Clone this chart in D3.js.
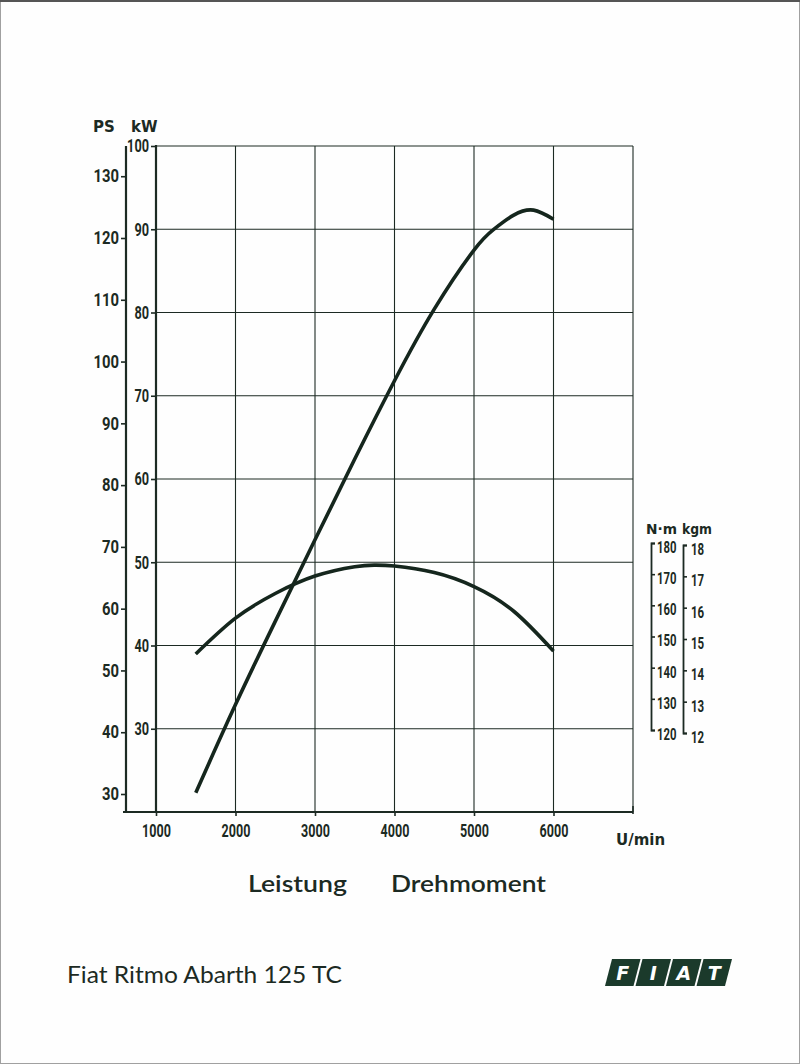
<!DOCTYPE html>
<html><head><meta charset="utf-8">
<script src="https://cdn.jsdelivr.net/npm/d3@7"></script>
<style>
html,body{margin:0;padding:0;background:#fff;}
svg{display:block;}
.num{font-family:Roboto,'Liberation Sans',sans-serif;font-weight:700;fill:#1c2a23;}
.hdr{font-family:'DejaVu Sans','Open Sans',sans-serif;font-weight:700;fill:#1c2a23;}
.ttl{font-family:Lato,'Open Sans',sans-serif;fill:#1c2a23;}
</style>
</head><body>
<script>
// ---- data ----
const rpmTicks = [1000, 2000, 3000, 4000, 5000, 6000];
const kwTicks = [30, 40, 50, 60, 70, 80, 90, 100];
const psTicks = [30, 40, 50, 60, 70, 80, 90, 100, 110, 120, 130];
const nmTicks = [120, 130, 140, 150, 160, 170, 180];
const kgmTicks = [12, 13, 14, 15, 16, 17, 18];

const powerRpm = [1500, 2000, 2500, 3000, 3500, 4000, 4500, 5000, 5250, 5500, 5750, 6000];
const powerKW  = [22.3, 32.9, 42.9, 52.7, 62.4, 71.8, 80.4, 87.5, 90.0, 91.7, 92.3, 91.2];

const torqueRpm = [1500, 2000, 2500, 3000, 3500, 3750, 4000, 4500, 5000, 5500, 6000];
const torqueNm  = [144.4, 155.9, 163.8, 169.4, 172.4, 172.9, 172.6, 170.5, 166.0, 158.1, 145.3];

const labels = {ps: "PS", kw: "kW", nm: "N·m", kgm: "kgm", rpm: "U/min",
  power: "Leistung", torque: "Drehmoment", model: "Fiat Ritmo Abarth 125 TC"};
const logoLetters = ["F", "I", "A", "T"];

// ---- drawing ----
(function () {
const W = 800, H = 1064, ink = "#1c2a23";
const svg = d3.select("body").append("svg").attr("width", W).attr("height", H);
svg.append("rect").attr("width", W).attr("height", H).attr("fill", "#fefefe");
svg.append("rect").attr("x", 0.5).attr("y", 0.5).attr("width", W - 1).attr("height", H - 1)
  .attr("fill", "none").attr("stroke", "#a0a0a0").attr("stroke-width", 1);
svg.append("line").attr("x1", 0).attr("x2", W).attr("y1", 1).attr("y2", 1).attr("stroke", "#555").attr("stroke-width", 2);

const x = d3.scaleLinear().domain([1000, 7000]).range([156, 633]);
const kw = d3.scaleLinear().domain([20, 100]).range([812, 146]);
const ps = d3.scaleLinear().domain([30, 120]).range([794, 238]);
const nm = d3.scaleLinear().domain([120, 180]).range([730, 543]);
const kgm = d3.scaleLinear().domain([12, 18]).range([733, 545]);

const psX = 126;
const g = svg.append("g");

g.selectAll(".vg").data(rpmTicks.slice(1).concat([7000])).join("line")
  .attr("x1", d => x(d)).attr("x2", d => x(d))
  .attr("y1", kw(100)).attr("y2", kw(20))
  .attr("stroke", ink).attr("stroke-width", 1.1);
g.selectAll(".hg").data(kwTicks).join("line")
  .attr("x1", x(1000)).attr("x2", x(7000))
  .attr("y1", d => kw(d)).attr("y2", d => kw(d))
  .attr("stroke", ink).attr("stroke-width", 1.1);
g.append("line").attr("x1", x(1000)).attr("x2", x(1000)).attr("y1", kw(100) - 1).attr("y2", kw(20))
  .attr("stroke", ink).attr("stroke-width", 2.2);
g.append("line").attr("x1", psX).attr("x2", psX).attr("y1", kw(100)).attr("y2", kw(20) + 1)
  .attr("stroke", ink).attr("stroke-width", 2.2);
g.append("line").attr("x1", psX - 3).attr("x2", x(7000)).attr("y1", kw(20)).attr("y2", kw(20))
  .attr("stroke", ink).attr("stroke-width", 2.2);
g.append("line").attr("x1", x(7000)).attr("x2", x(7000)).attr("y1", kw(20) - 6).attr("y2", kw(20) + 2)
  .attr("stroke", ink).attr("stroke-width", 1.6);

function styleAxis(sel, size, per) {
  sel.select(".domain").attr("stroke", ink).attr("stroke-width", 1.8);
  sel.selectAll(".tick line").attr("stroke", ink).attr("stroke-width", 1.6);
  sel.selectAll(".tick text").attr("class", "num").attr("font-size", size).attr("fill", ink)
    .attr("textLength", d => String(d).length * per).attr("lengthAdjust", "spacingAndGlyphs");
}

const xa = svg.append("g").attr("transform", `translate(0,${kw(20)})`)
  .call(d3.axisBottom(x).tickValues(rpmTicks).tickSize(4).tickPadding(8).tickFormat(d3.format("d")));
xa.select(".domain").remove();
styleAxis(xa, 18, 7.2);

const ka = svg.append("g").attr("transform", `translate(${x(1000)},0)`)
  .call(d3.axisLeft(kw).tickValues(kwTicks).tickSize(5).tickPadding(2).tickFormat(d3.format("d")));
ka.select(".domain").remove();
styleAxis(ka, 18, 7.3);

const pa = svg.append("g").attr("transform", `translate(${psX},0)`)
  .call(d3.axisLeft(ps).tickValues(psTicks).tickSize(5).tickPadding(2).tickFormat(d3.format("d")));
pa.select(".domain").remove();
styleAxis(pa, 18, 8.5);

const na = svg.append("g").attr("transform", "translate(651,0)")
  .call(d3.axisRight(nm).tickValues(nmTicks).tickSize(4).tickSizeOuter(4).tickPadding(2).tickFormat(d3.format("d")));
styleAxis(na, 17, 6.5);
na.selectAll(".tick text").attr("dy", "0.55em");
const ga = svg.append("g").attr("transform", "translate(683,0)")
  .call(d3.axisRight(kgm).tickValues(kgmTicks).tickSize(4).tickSizeOuter(4).tickPadding(4).tickFormat(d3.format("d")));
styleAxis(ga, 17, 6.6);
ga.selectAll(".tick text").attr("dy", "0.55em");

svg.append("text").attr("class", "hdr").attr("x", 93).attr("y", 132).attr("font-size", 15).text(labels.ps);
svg.append("text").attr("class", "hdr").attr("x", 131).attr("y", 132).attr("font-size", 15).text(labels.kw);
svg.append("text").attr("class", "hdr").attr("x", 646).attr("y", 534).attr("font-size", 14)
  .attr("textLength", 31).attr("lengthAdjust", "spacingAndGlyphs").text(labels.nm);
svg.append("text").attr("class", "hdr").attr("x", 682).attr("y", 534).attr("font-size", 14)
  .attr("textLength", 30).attr("lengthAdjust", "spacingAndGlyphs").text(labels.kgm);
svg.append("text").attr("class", "hdr").attr("x", 616).attr("y", 845).attr("font-size", 15).text(labels.rpm);

const line = d3.line().curve(d3.curveNatural);
svg.append("path")
  .attr("d", line(powerRpm.map((r, i) => [x(r), kw(powerKW[i])])))
  .attr("fill", "none").attr("stroke", "#15261d").attr("stroke-width", 3.6).attr("stroke-linecap", "butt");
svg.append("path")
  .attr("d", line(torqueRpm.map((r, i) => [x(r), nm(torqueNm[i])])))
  .attr("fill", "none").attr("stroke", "#15261d").attr("stroke-width", 3.6).attr("stroke-linecap", "butt");

svg.append("text").attr("class", "ttl").attr("x", 248).attr("y", 892).attr("font-size", 23)
  .attr("font-weight", 600).attr("textLength", 99).attr("lengthAdjust", "spacingAndGlyphs").text(labels.power);
svg.append("text").attr("class", "ttl").attr("x", 391).attr("y", 892).attr("font-size", 23)
  .attr("font-weight", 600).attr("textLength", 155).attr("lengthAdjust", "spacingAndGlyphs").text(labels.torque);
svg.append("text").attr("class", "ttl").attr("x", 67).attr("y", 983).attr("font-size", 24)
  .attr("textLength", 275).attr("lengthAdjust", "spacingAndGlyphs").text(labels.model);

const lg = svg.append("g");
const yTop = 959, yBot = 986, skew = 7, bw = 28.5, step = 30.5, x0 = 612;
logoLetters.forEach((L, i) => {
  const tl = x0 + i * step;
  lg.append("path")
    .attr("d", `M${tl},${yTop}L${tl + bw},${yTop}L${tl + bw - skew},${yBot}L${tl - skew},${yBot}Z`)
    .attr("fill", "#1b3a2b");
  lg.append("text").attr("x", tl + bw / 2 - skew / 2).attr("y", yBot - 6)
    .attr("text-anchor", "middle").attr("font-family", "'DejaVu Sans',sans-serif")
    .attr("font-weight", 700).attr("font-style", "italic").attr("font-size", 19)
    .attr("fill", "#fff").text(L);
});
})();
</script>
</body></html>
